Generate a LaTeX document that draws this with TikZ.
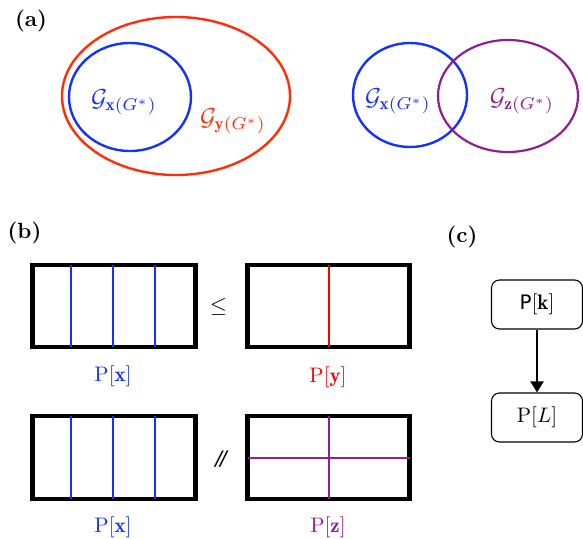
\documentclass[tikz,border=0pt]{standalone}
\usepackage{fontspec}
\usepackage{graphicx}
\newfontfamily\dejavu{DejaVu Sans}
\usetikzlibrary{shapes.geometric,arrows.meta,calc}
\definecolor{cblue}{RGB}{20,50,250}
\definecolor{cred}{RGB}{255,45,10}
\definecolor{pred}{RGB}{250,0,0}
\definecolor{cpurp}{RGB}{145,30,145}
\newcommand{\sbA}[1]{\scalebox{2.2}{\bfseries #1}}
\newcommand{\sbG}[1]{\scalebox{2.45}{#1}}
\newcommand{\sbL}[1]{\scalebox{2.1}{#1}}
\tikzset{
  plab/.style={inner sep=0pt},
  gtext/.style={inner sep=0pt},
  ell/.style={ellipse, inner sep=0pt, line width=2.4pt},
  frame/.style={draw=black, line width=4.5pt, inner sep=0pt, minimum width=163pt, minimum height=82pt},
  inl/.style={line width=2pt, shorten >=2.25pt, shorten <=2.25pt},
  lab/.style={inner sep=0pt},
  rel/.style={font=\fontsize{21}{24}\selectfont\dejavu, inner sep=0pt},
  cbox/.style={draw=black, rounded corners=8pt, line width=1.1pt, minimum width=91pt, minimum height=49pt, inner sep=0pt},
  arr/.style={line width=2pt, -{Triangle[width=13pt,length=11pt]}}
}
\begin{document}
\begin{tikzpicture}[x=1pt,y=-1pt]
\useasboundingbox (0,0) rectangle (583,538);
% (a)
\node[plab] (la) at (31,21) {\sbA{(a)}};
\node[ell, draw=cred, minimum width=228pt, minimum height=158pt] (Gy) at (176,96) {};
\node[ell, draw=cblue, minimum width=122pt, minimum height=108pt] (Gx) at (130,97) {};
\node[gtext, text=cblue] (tx) at (124,102) {\sbG{$\mathcal{G}_{\mathbf{x}(G^*)}$}};
\node[gtext, text=cred] (ty) at (233,121) {\sbG{$\mathcal{G}_{\mathbf{y}(G^*)}$}};
\node[ell, draw=cblue, minimum width=114pt, minimum height=104pt] (Gx2) at (410,95) {};
\node[ell, draw=cpurp, minimum width=140pt, minimum height=112pt, line width=2.2pt] (Gz) at (508,96) {};
\node[gtext, text=cblue] (tx2) at (398,101) {\sbG{$\mathcal{G}_{\mathbf{x}(G^*)}$}};
\node[gtext, text=cpurp] (tz) at (522,101) {\sbG{$\mathcal{G}_{\mathbf{z}(G^*)}$}};
% (b)
\node[plab] (lb) at (24.5,233) {\sbA{(b)}};
\node[frame] (L1) at (114,306) {};
\node[frame, minimum width=162pt] (R1) at (328.5,306) {};
\node[frame, minimum height=83pt] (L2) at (114,457.5) {};
\node[frame, minimum width=162pt, minimum height=83pt] (R2) at (328.5,457.5) {};
\foreach \b in {L1,L2}{
  \foreach \f in {0.245,0.494,0.745}{
    \draw[inl, cblue] ($(\b.north west)!\f!(\b.north east)$) -- ($(\b.south west)!\f!(\b.south east)$);
  }
}
\draw[inl, pred] (R1.north) -- (R1.south);
\draw[inl, cpurp] (R2.north) -- (R2.south);
\draw[inl, cpurp] (R2.west) -- (R2.east);
\node[inner sep=0pt] (le) at (218.5,307) {\scalebox{2.2}{$\leq$}};
\node[rel, font=\fontsize{20}{24}\selectfont\dejavu\itshape] (par) at (221,459) {/\kern-0.1em/};
\node[lab, text=cblue] (px1) at (113,376) {\sbL{$\mathrm{P}[\mathbf{x}]$}};
\node[lab, text=pred] (py) at (328,377) {\sbL{$\mathrm{P}[\mathbf{y}]$}};
\node[lab, text=cblue] (px2) at (113,527) {\sbL{$\mathrm{P}[\mathbf{x}]$}};
\node[lab, text=cpurp] (pz) at (328,527) {\sbL{$\mathrm{P}[\mathbf{z}]$}};
% (c)
\node[plab] (lc) at (462,237) {\sbA{(c)}};
\node[cbox] (k) at (537,304.5) {\sbL{{\dejavu\fontsize{9.5}{11}\selectfont P}$[\mathbf{k}]$}};
\node[cbox] (L) at (537,417.5) {\sbL{$\mathrm{P}[L]$}};
\draw[arr] (k) -- (L);
\end{tikzpicture}
\end{document}
